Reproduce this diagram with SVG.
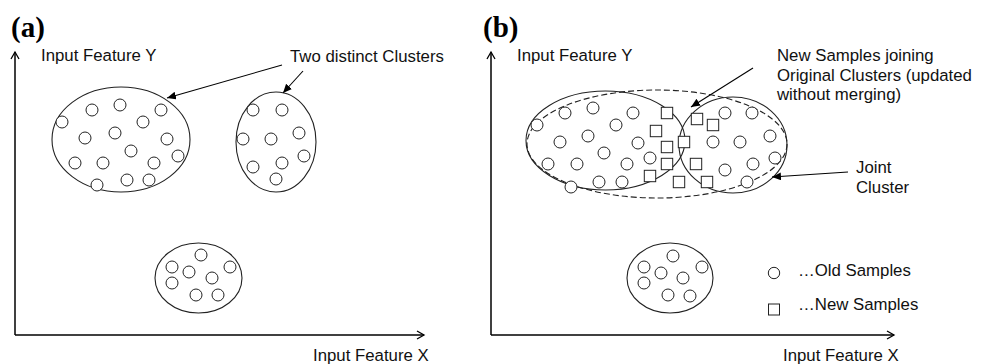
<svg xmlns="http://www.w3.org/2000/svg" width="986" height="364" viewBox="0 0 986 364">
<defs>
<marker id="open" markerUnits="userSpaceOnUse" markerWidth="12" markerHeight="12" refX="8" refY="5" orient="auto">
<path d="M1,1 L8,5 L1,9" fill="none" stroke="#000" stroke-width="1.3"/>
</marker>
<marker id="solid" markerUnits="userSpaceOnUse" markerWidth="12" markerHeight="10" refX="9" refY="4" orient="auto">
<path d="M0,0 L9,4 L0,8 Z" fill="#000"/>
</marker>
<style>
.ax{stroke:#000;stroke-width:1.5;fill:none}
.cl{stroke:#222;stroke-width:1.1;fill:none}
.dash{stroke:#222;stroke-width:1.1;fill:none;stroke-dasharray:6,3}
.pt{stroke:#222;stroke-width:1;fill:#fff}
.ann{stroke:#000;stroke-width:1.1;fill:none}
.t{font-family:"Liberation Sans",Arial,sans-serif;font-size:16.8px;fill:#111}
.h{font-family:"Liberation Serif","Times New Roman",serif;font-size:29px;font-weight:bold;fill:#000}
</style>
<circle id="c" r="6" class="pt"/>
<rect id="s" x="-5.7" y="-5.7" width="11.4" height="11.4" class="pt"/>
</defs>
<rect width="986" height="364" fill="#fff"/>

<!-- Panel (a) -->
<g id="panel-a">
<text class="h" x="11" y="37">(a)</text>
<g id="axes-a">
<path class="ax" d="M15,335 L15,52" marker-end="url(#open)"/>
<path class="ax" d="M15,335 L424,335" marker-end="url(#open)"/>
<text class="t" x="41" y="61">Input Feature Y</text>
<text class="t" x="313" y="361">Input Feature X</text>
</g>
<g id="a-cluster1">
<ellipse class="cl" cx="121" cy="139.5" rx="69" ry="52.5"/>
<use href="#c" x="62" y="122"/><use href="#c" x="92" y="110"/><use href="#c" x="120" y="105"/>
<use href="#c" x="161" y="110"/><use href="#c" x="143" y="122"/><use href="#c" x="85" y="138"/>
<use href="#c" x="115" y="133"/><use href="#c" x="167" y="139"/><use href="#c" x="131" y="151"/>
<use href="#c" x="75" y="163"/><use href="#c" x="103" y="163"/><use href="#c" x="154" y="163"/>
<use href="#c" x="178" y="156"/><use href="#c" x="97" y="185"/><use href="#c" x="127" y="180"/>
<use href="#c" x="149" y="180"/>
</g>
<g id="a-cluster2">
<ellipse class="cl" cx="276" cy="142" rx="40" ry="50"/>
<use href="#c" x="253" y="110"/><use href="#c" x="282" y="110"/><use href="#c" x="243" y="139"/>
<use href="#c" x="271" y="139"/><use href="#c" x="299" y="133"/><use href="#c" x="253" y="167"/>
<use href="#c" x="282" y="163"/><use href="#c" x="304" y="156"/><use href="#c" x="276" y="179"/>
</g>
<g id="a-cluster3">
<ellipse class="cl" cx="198.5" cy="278" rx="43.5" ry="35"/>
<use href="#c" x="201" y="255"/><use href="#c" x="172" y="267"/><use href="#c" x="189" y="272"/>
<use href="#c" x="230" y="267"/><use href="#c" x="172" y="283"/><use href="#c" x="212" y="278"/>
<use href="#c" x="196" y="295"/><use href="#c" x="218" y="295"/>
</g>
<g id="a-label">
<text class="t" x="290" y="62">Two distinct Clusters</text>
</g>
</g>

<!-- Panel (b) -->
<g id="panel-b">
<text class="h" x="483" y="37">(b)</text>
<g id="axes-b">
<path class="ax" d="M491,335 L491,52" marker-end="url(#open)"/>
<path class="ax" d="M491,335 L894,335" marker-end="url(#open)"/>
<text class="t" x="517" y="61">Input Feature Y</text>
<text class="t" x="783" y="361">Input Feature X</text>
</g>
<g id="b-joint">
<ellipse class="dash" cx="657" cy="144" rx="130" ry="54"/>
</g>
<g id="b-cluster1">
<ellipse class="cl" cx="605.5" cy="140.5" rx="79.5" ry="49.5"/>
<use href="#c" x="537" y="125"/><use href="#c" x="565" y="113"/><use href="#c" x="593" y="108"/>
<use href="#c" x="633" y="113"/><use href="#c" x="616" y="125"/><use href="#c" x="560" y="142"/>
<use href="#c" x="588" y="136"/><use href="#c" x="638" y="143"/><use href="#c" x="604" y="153"/>
<use href="#c" x="548" y="164"/><use href="#c" x="577" y="164"/><use href="#c" x="627" y="164"/>
<use href="#c" x="650" y="158"/><use href="#c" x="571" y="187"/><use href="#c" x="599" y="182"/>
<use href="#c" x="622" y="182"/>
</g>
<g id="b-cluster2">
<ellipse class="cl" cx="733" cy="145" rx="54" ry="48"/>
<use href="#c" x="725" y="113"/><use href="#c" x="752" y="113"/><use href="#c" x="713" y="142"/>
<use href="#c" x="740" y="142"/><use href="#c" x="770" y="136"/><use href="#c" x="725" y="170"/>
<use href="#c" x="753" y="164"/><use href="#c" x="775" y="158"/><use href="#c" x="747" y="182"/>
</g>
<g id="b-new">
<use href="#s" x="667" y="113"/><use href="#s" x="697" y="119"/><use href="#s" x="713" y="125"/>
<use href="#s" x="656" y="131"/><use href="#s" x="684" y="142"/><use href="#s" x="667" y="147"/>
<use href="#s" x="667" y="164"/><use href="#s" x="696" y="164"/><use href="#s" x="650" y="176"/>
<use href="#s" x="679" y="182"/><use href="#s" x="707" y="182"/>
</g>
<g id="b-cluster3">
<ellipse class="cl" cx="670" cy="278" rx="43" ry="35"/>
<use href="#c" x="673" y="256"/><use href="#c" x="644" y="267"/><use href="#c" x="661" y="273"/>
<use href="#c" x="702" y="267"/><use href="#c" x="644" y="283"/><use href="#c" x="683" y="278"/>
<use href="#c" x="668" y="295"/><use href="#c" x="690" y="296"/>
</g>
<g id="b-label-new">
<text class="t" x="777" y="61">New Samples joining</text>
<text class="t" x="777" y="81">Original Clusters (updated</text>
<text class="t" x="777" y="100">without merging)</text>
</g>
<g id="b-label-joint">
<text class="t" x="856" y="173">Joint</text>
<text class="t" x="856" y="193">Cluster</text>
</g>
<g id="legend">
<circle class="pt" cx="774" cy="273" r="5.7"/>
<text class="t" x="798" y="276">…Old Samples</text>
<rect class="pt" x="768.5" y="304" width="11" height="11"/>
<text class="t" x="798" y="310">…New Samples</text>
</g>
</g>

<g id="connectors">
<path class="ann" d="M282,65 L167,98" marker-end="url(#solid)"/>
<path class="ann" d="M303,71 L283,93" marker-end="url(#solid)"/>
<path class="ann" d="M753,68 L691,107" marker-end="url(#solid)"/>
<path class="ann" d="M848,172 L772,177" marker-end="url(#solid)"/>
</g>
</svg>
